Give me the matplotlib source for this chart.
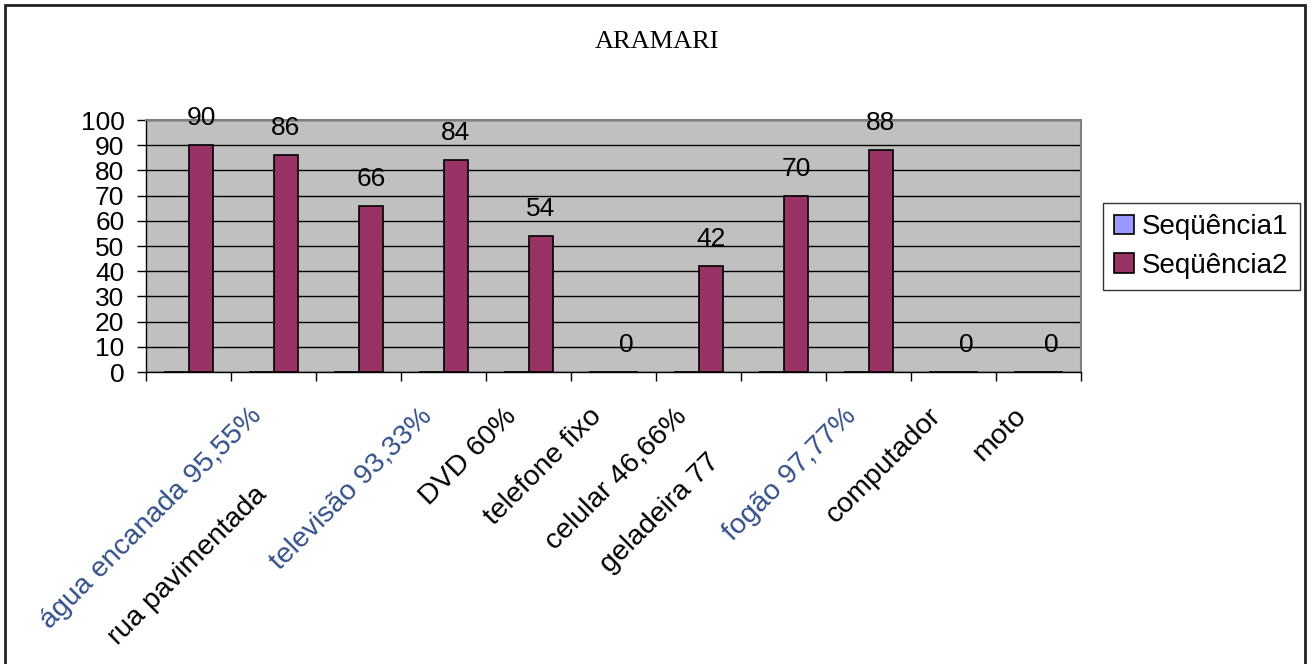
import matplotlib
matplotlib.use('Agg')
import matplotlib.pyplot as plt
import matplotlib.transforms as mtransforms
from matplotlib.patches import Rectangle
import numpy as np

plt.rcParams['font.family'] = ['Liberation Sans', 'DejaVu Sans']

categorias = ['', 'água encanada 95,55%', 'rua pavimentada', 'televisão 93,33%',
              'DVD 60%', 'telefone fixo', 'celular 46,66%', 'geladeira 77',
              'fogão 97,77%', 'computador', 'moto']
seq1 = [0, 0, 0, 0, 0, 0, 0, 0, 0, 0, 0]
seq2 = [90, 86, 66, 84, 54, 0, 42, 70, 88, 0, 0]
cores_rotulo = ['black', '#34508a', 'black', '#34508a', 'black', 'black',
                'black', 'black', '#34508a', 'black', 'black']

W, H = 1311, 664
fig = plt.figure(figsize=(W / 100, H / 100), dpi=100)
ax = fig.add_axes([146 / W, 1 - 372 / H, (1081 - 146) / W, (372 - 120) / H])

ind = np.arange(len(seq2))
largura = 0.294

b1 = ax.bar(ind - largura / 2, seq1, largura, color='#9999FF', edgecolor='black',
            linewidth=1.2, label='Seqüência1', zorder=3)
b2 = ax.bar(ind + largura / 2, seq2, largura, color='#993366', edgecolor='black',
            linewidth=1.2, label='Seqüência2', zorder=3)

for x, v in zip(ind + largura / 2, seq2):
    ax.annotate(str(v), (x, v), xytext=(0, 19.5), textcoords='offset points',
                ha='center', va='center', fontsize=19, zorder=4)

ax.set_facecolor('#C0C0C0')
ax.set_xlim(-0.5, len(seq2) - 0.5)
ax.set_ylim(0, 100)
ax.set_yticks(np.arange(0, 101, 10))
ax.tick_params(axis='y', labelsize=19, length=6.5, width=1, pad=9)
ax.yaxis.grid(True, color='black', linewidth=1)
ax.set_axisbelow(True)

# boundary ticks between categories, labels at the centres
ax.set_xticks(np.arange(-0.5, len(seq2), 1))
ax.set_xticklabels([])
ax.set_xticks(ind, minor=True)
ax.set_xticklabels(categorias, minor=True, rotation=45, ha='right', va='center',
                   rotation_mode='anchor', fontsize=20.5)
ax.tick_params(axis='x', which='major', length=6.5, width=1)
ax.tick_params(axis='x', which='minor', length=0, pad=29)

desloc = {2: (-80, -78), 7: (-52, -46)}
for i, lbl in enumerate(ax.get_xticklabels(minor=True)):
    lbl.set_color(cores_rotulo[i])
    dx, dy = desloc.get(i, (0, 0))
    lbl.set_transform(lbl.get_transform() +
                      mtransforms.ScaledTranslation((dx - 16) / 100, dy / 100,
                                                    fig.dpi_scale_trans))

for lado in ['left', 'bottom']:
    ax.spines[lado].set_color('black')
    ax.spines[lado].set_linewidth(1)
for lado in ['top', 'right']:
    ax.spines[lado].set_color('#808080')
    ax.spines[lado].set_linewidth(1.5)

fig.text(657 / W, 1 - 42 / H, 'ARAMARI', ha='center', va='center',
         fontsize=19, family=['Liberation Serif', 'DejaVu Serif'])

leg = fig.legend(handles=[b1, b2], loc='upper left',
                 bbox_to_anchor=(1103 / W, 1 - 203 / H), fontsize=20,
                 frameon=True, fancybox=False, shadow=False,
                 handlelength=0.7, handleheight=0.7, handletextpad=0.3,
                 borderpad=0.4, labelspacing=0.45, borderaxespad=0)
leg.get_frame().set_edgecolor('black')
leg.get_frame().set_linewidth(1)

# chart border
fig.patches.append(Rectangle((5 / W, -0.05), 1300 / W, 1.05 - 5 / H,
                             transform=fig.transFigure, fill=False,
                             edgecolor='#222222', linewidth=2))

fig.savefig('out.png', dpi=100)
